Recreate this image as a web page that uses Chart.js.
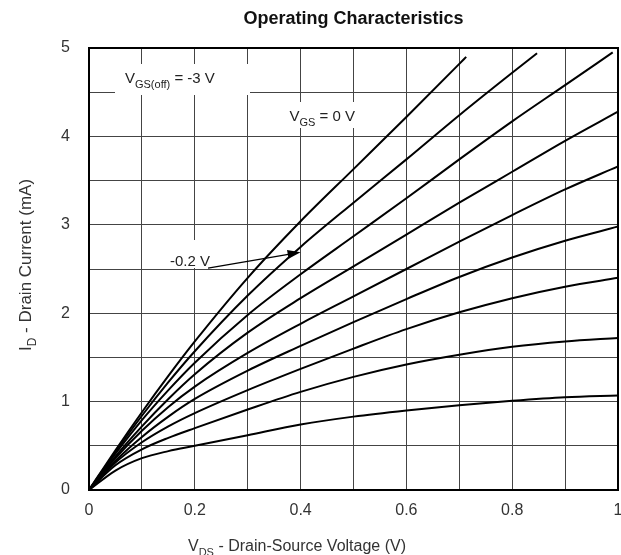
<!DOCTYPE html>
<html>
<head>
<meta charset="utf-8">
<script src="https://cdn.jsdelivr.net/npm/chart.js@4.4.0/dist/chart.umd.min.js"></script>
<style>
  html, body { margin: 0; padding: 0; background: #fff; }
  #wrap { width: 621px; height: 555px; }
</style>
</head>
<body>
<div id="wrap"><canvas id="chart" width="621" height="555"></canvas></div>
<script>
const vds = [0, 0.05, 0.1, 0.15, 0.2, 0.3, 0.4, 0.5, 0.6, 0.7, 0.8, 0.9, 1.0];

// drain current (mA) per VGS step, read at the vds points above
const idVgs0   = [0, 0.45, 0.88, 1.29, 1.68, 2.40, 3.04, 3.63, 4.22, 4.82];
const idVgs02  = [0, 0.43, 0.84, 1.22, 1.57, 2.20, 2.75, 3.25, 3.74, 4.24, 4.72];
const idVgs04  = [0, 0.41, 0.79, 1.13, 1.44, 1.98, 2.44, 2.87, 3.30, 3.74, 4.17, 4.58];
const idVgs06  = [0, 0.38, 0.72, 1.03, 1.31, 1.78, 2.17, 2.53, 2.89, 3.25, 3.60, 3.95, 4.28];
const idVgs08  = [0, 0.36, 0.67, 0.94, 1.17, 1.55, 1.88, 2.19, 2.50, 2.81, 3.11, 3.40, 3.66];
const idVgs10  = [0, 0.33, 0.60, 0.83, 1.03, 1.35, 1.63, 1.90, 2.16, 2.41, 2.63, 2.82, 2.98];
const idVgs12  = [0, 0.31, 0.54, 0.72, 0.87, 1.13, 1.37, 1.60, 1.82, 2.01, 2.17, 2.30, 2.40];
const idVgs14  = [0, 0.28, 0.46, 0.59, 0.70, 0.91, 1.11, 1.28, 1.42, 1.53, 1.62, 1.68, 1.72];
const idVgs16  = [0, 0.22, 0.36, 0.44, 0.50, 0.62, 0.74, 0.83, 0.90, 0.96, 1.01, 1.05, 1.07];

// last point of the three curves that run off the top
const endVds = [0.713, 0.847, 0.99];
const endId  = [4.90, 4.94, 4.95];

const xTickLabels = ['0', '0.2', '0.4', '0.6', '0.8', '1'];
const yTickLabels = ['0', '1', '2', '3', '4', '5'];

const FONT = '"Liberation Sans", Arial, sans-serif';
const TEXT = '#333';

function toPoints(ys, endIdx) {
  const pts = ys.map((y, i) => ({ x: vds[i], y: y }));
  if (endIdx !== undefined) pts.push({ x: endVds[endIdx], y: endId[endIdx] });
  return pts;
}

const curves = [
  toPoints(idVgs0, 0), toPoints(idVgs02, 1), toPoints(idVgs04, 2),
  toPoints(idVgs06), toPoints(idVgs08), toPoints(idVgs10),
  toPoints(idVgs12), toPoints(idVgs14), toPoints(idVgs16),
];

// text with subscripts: parts = [[text, isSub], ...]
function partsWidth(ctx, parts, size) {
  let w = 0;
  parts.forEach(([t, sub]) => {
    ctx.font = `${sub ? Math.round(size * 0.7) : size}px ${FONT}`;
    w += ctx.measureText(t).width;
  });
  return w;
}

function drawParts(ctx, x, y, parts, size, align) {
  let cx = x;
  if (align === 'center') cx = x - partsWidth(ctx, parts, size) / 2;
  ctx.textBaseline = 'alphabetic';
  ctx.textAlign = 'left';
  parts.forEach(([t, sub]) => {
    const s = sub ? Math.round(size * 0.7) : size;
    ctx.font = `${s}px ${FONT}`;
    ctx.fillText(t, cx, sub ? y + size * 0.3 : y);
    cx += ctx.measureText(t).width;
  });
}

const decor = {
  id: 'decor',
  beforeDatasetsDraw(chart) {
    const ctx = chart.ctx;
    const xs = chart.scales.x, ys = chart.scales.y;
    ctx.save();
    // label backgrounds cut the grid
    ctx.fillStyle = '#fff';
    ctx.fillRect(115, 64, 135, 31);
    ctx.fillRect(286, 102, 74, 26);
    ctx.fillRect(166, 240, 52, 28);

    ctx.fillStyle = '#222';
    drawParts(ctx, xs.getPixelForValue(0.068), ys.getPixelForValue(4.60),
      [['V', false], ['GS(off)', true], [' = -3 V', false]], 15);
    drawParts(ctx, xs.getPixelForValue(0.379), ys.getPixelForValue(4.17),
      [['V', false], ['GS', true], [' = 0 V', false]], 15);
    drawParts(ctx, xs.getPixelForValue(0.153), ys.getPixelForValue(2.53),
      [['-0.2 V', false]], 15);
    ctx.restore();
  },
  afterDatasetsDraw(chart) {
    const ctx = chart.ctx;
    const a = chart.chartArea;
    const xs = chart.scales.x, ys = chart.scales.y;
    ctx.save();
    // arrow to the -0.2 V curve
    const x0 = xs.getPixelForValue(0.225), y0 = ys.getPixelForValue(2.51);
    const x1 = xs.getPixelForValue(0.400), y1 = ys.getPixelForValue(2.69);
    const ang = Math.atan2(y1 - y0, x1 - x0);
    ctx.strokeStyle = '#000';
    ctx.lineWidth = 1.3;
    ctx.beginPath();
    ctx.moveTo(x0, y0);
    ctx.lineTo(x1 - 8 * Math.cos(ang), y1 - 8 * Math.sin(ang));
    ctx.stroke();
    ctx.fillStyle = '#000';
    ctx.beginPath();
    ctx.moveTo(x1, y1);
    ctx.lineTo(x1 - 13 * Math.cos(ang) + 4.5 * Math.sin(ang), y1 - 13 * Math.sin(ang) - 4.5 * Math.cos(ang));
    ctx.lineTo(x1 - 13 * Math.cos(ang) - 4.5 * Math.sin(ang), y1 - 13 * Math.sin(ang) + 4.5 * Math.cos(ang));
    ctx.closePath();
    ctx.fill();

    // plot frame
    ctx.lineWidth = 2;
    ctx.strokeRect(a.left, a.top, a.right - a.left, a.bottom - a.top);

    // title and axis titles
    ctx.fillStyle = '#111';
    ctx.font = `bold 18px ${FONT}`;
    ctx.textAlign = 'center';
    ctx.textBaseline = 'middle';
    ctx.fillText('Operating Characteristics', (a.left + a.right) / 2, 19);

    ctx.fillStyle = TEXT;
    drawParts(ctx, 297, 551,
      [['V', false], ['DS', true], [' - Drain-Source Voltage (V)', false]], 16, 'center');

    ctx.translate(31, 265);
    ctx.rotate(-Math.PI / 2);
    drawParts(ctx, 0, 0,
      [['I', false], ['D', true], [' - Drain Current (mA)', false]], 17, 'center');
    ctx.restore();
  }
};

new Chart(document.getElementById('chart'), {
  type: 'line',
  data: {
    datasets: curves.map(pts => ({
      data: pts,
      borderColor: '#000',
      borderWidth: 2,
      pointRadius: 0,
      fill: false,
      cubicInterpolationMode: 'monotone',
    })),
  },
  options: {
    responsive: false,
    animation: false,
    layout: { padding: { top: 48, right: 3, left: 0, bottom: 0 } },
    plugins: { legend: { display: false }, tooltip: { enabled: false } },
    scales: {
      x: {
        type: 'linear', min: 0, max: 1,
        afterFit: s => { s.height = 65; s.paddingLeft = 0; s.paddingRight = 0; },
        ticks: {
          stepSize: 0.1, padding: 11, color: TEXT, maxRotation: 0, autoSkip: false,
          font: { family: FONT, size: 16 },
          callback: v => {
            const k = Math.round(v * 10);
            return k % 2 === 0 ? xTickLabels[k / 2] : '';
          },
        },
        grid: { color: '#444', lineWidth: 1, drawTicks: false },
        border: { color: '#000', width: 2 },
      },
      y: {
        type: 'linear', min: 0, max: 5,
        afterFit: s => { s.width = 89; s.paddingTop = 0; s.paddingBottom = 0; },
        ticks: {
          stepSize: 0.5, padding: 19, color: TEXT, autoSkip: false,
          font: { family: FONT, size: 16 },
          callback: v => {
            const k = Math.round(v * 2);
            return k % 2 === 0 ? yTickLabels[k / 2] : '';
          },
        },
        grid: { color: '#444', lineWidth: 1, drawTicks: false },
        border: { color: '#000', width: 2 },
      },
    },
  },
  plugins: [decor],
});
</script>
</body>
</html>
